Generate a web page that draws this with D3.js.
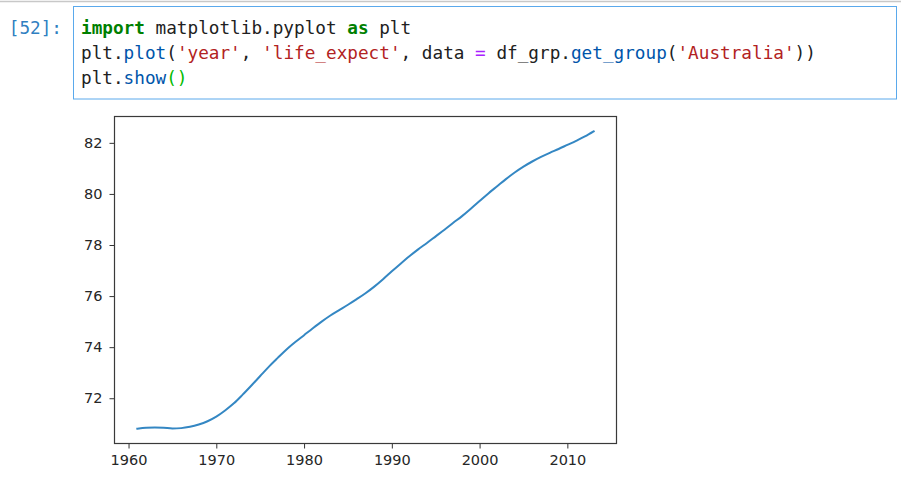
<!DOCTYPE html>
<html>
<head>
<meta charset="utf-8">
<script src="https://cdn.jsdelivr.net/npm/d3@7"></script>
<style>
  html, body { margin: 0; padding: 0; background: #fff; }
  svg { display: block; }
</style>
</head>
<body>
<svg id="chart" width="901" height="495"></svg>
<script>
// ---- data (Australia life expectancy) ----
const years = d3.range(1961, 2014);
const lifeExpect = [
  70.81, 70.84, 70.85, 70.84, 70.82, 70.83, 70.88, 70.97, 71.10, 71.28,
  71.52, 71.80, 72.14, 72.50, 72.87, 73.24, 73.58, 73.91, 74.20, 74.47,
  74.74, 75.00, 75.24, 75.45, 75.66, 75.88, 76.11, 76.37, 76.66, 76.97,
  77.27, 77.56, 77.83, 78.08, 78.34, 78.60, 78.87, 79.13, 79.42, 79.72,
  80.02, 80.30, 80.58, 80.84, 81.07, 81.27, 81.45, 81.61, 81.76, 81.92,
  82.08, 82.25, 82.45
];
const xTicks = [1960, 1970, 1980, 1990, 2000, 2010];
const yTicks = [72, 74, 76, 78, 80, 82];
const promptLabel = "[52]:";
const codeLines = [
  [["import", "kw"], [" matplotlib.pyplot ", "txt"], ["as", "kw"], [" plt", "txt"]],
  [["plt.", "txt"], ["plot", "fn"], ["(", "txt"], ["'year'", "str"], [", ", "txt"], ["'life_expect'", "str"],
   [", data ", "txt"], ["=", "op"], [" df_grp.", "txt"], ["get_group", "fn"], ["(", "txt"], ["'Australia'", "str"], ["))", "txt"]],
  [["plt.", "txt"], ["show", "fn"], ["()", "br"]]
];
const codeStyles = {
  kw: {fill: "#008000", weight: "bold"},
  txt: {fill: "#212121", weight: "normal"},
  fn: {fill: "#0055aa", weight: "normal"},
  str: {fill: "#b22222", weight: "normal"},
  op: {fill: "#aa22ff", weight: "normal"},
  br: {fill: "#00bb00", weight: "normal"}
};

const svg = d3.select("#chart");

// ---- notebook cell ----
svg.append("line").attr("x1", 0).attr("x2", 901).attr("y1", 1.5).attr("y2", 1.5)
  .attr("stroke", "#c8c8c8").attr("stroke-width", 1.5);

svg.append("rect").attr("x", 73.5).attr("y", 6.5).attr("width", 823).attr("height", 92.5)
  .attr("fill", "#fff").attr("stroke", "#5aa9ec").attr("stroke-width", 1);

const mono = "'DejaVu Sans Mono', 'Liberation Mono', monospace";
svg.append("text").attr("x", 62).attr("y", 34).attr("text-anchor", "end")
  .attr("font-family", mono).attr("font-size", 17.7).attr("fill", "#307fc1")
  .text(promptLabel);

codeLines.forEach((ln, i) => {
  const t = svg.append("text").attr("x", 81).attr("y", 34 + i * 25)
    .attr("font-family", mono).attr("font-size", 17.7)
    .style("white-space", "pre");
  ln.forEach(([s, k]) => {
    t.append("tspan").attr("fill", codeStyles[k].fill)
      .attr("font-weight", codeStyles[k].weight).text(s);
  });
});

// ---- chart ----
const pLeft = 114.5, pRight = 616.5, pTop = 116.5, pBottom = 443.5;
const xExt = d3.extent(years), yExt = d3.extent(lifeExpect);
const xPad = (xExt[1] - xExt[0]) * 0.05, yPad = (yExt[1] - yExt[0]) * 0.05;
const x = d3.scaleLinear().domain([xExt[0] - xPad, xExt[1] + xPad]).range([pLeft, pRight]);
const y = d3.scaleLinear().domain([yExt[0] - yPad, yExt[1] + yPad]).range([pBottom, pTop]);

const tickColor = "#333";
const labelFont = "'DejaVu Sans', sans-serif";

const lineGen = d3.line().x((d, i) => x(years[i])).y(d => y(d)).curve(d3.curveMonotoneX);
svg.append("path").datum(lifeExpect).attr("d", lineGen)
  .attr("fill", "none").attr("stroke", "#3487c3").attr("stroke-width", 2)
  .attr("stroke-linejoin", "round").attr("stroke-linecap", "square");

const xAxis = svg.append("g").attr("transform", `translate(0,${pBottom})`)
  .call(d3.axisBottom(x).tickValues(xTicks).tickFormat(d3.format("d")).tickSize(5).tickPadding(6));
const yAxis = svg.append("g").attr("transform", `translate(${pLeft},0)`)
  .call(d3.axisLeft(y).tickValues(yTicks).tickFormat(d3.format("d")).tickSize(5).tickPadding(7));
[xAxis, yAxis].forEach(g => {
  g.select(".domain").remove();
  g.selectAll("line").attr("stroke", tickColor).attr("stroke-width", 1);
  g.selectAll("text").attr("font-family", labelFont).attr("font-size", 14.5).attr("fill", "#262626");
});

svg.append("rect").attr("x", pLeft).attr("y", pTop).attr("width", pRight - pLeft).attr("height", pBottom - pTop)
  .attr("fill", "none").attr("stroke", "#3a3a3a").attr("stroke-width", 1.2);
</script>
</body>
</html>
